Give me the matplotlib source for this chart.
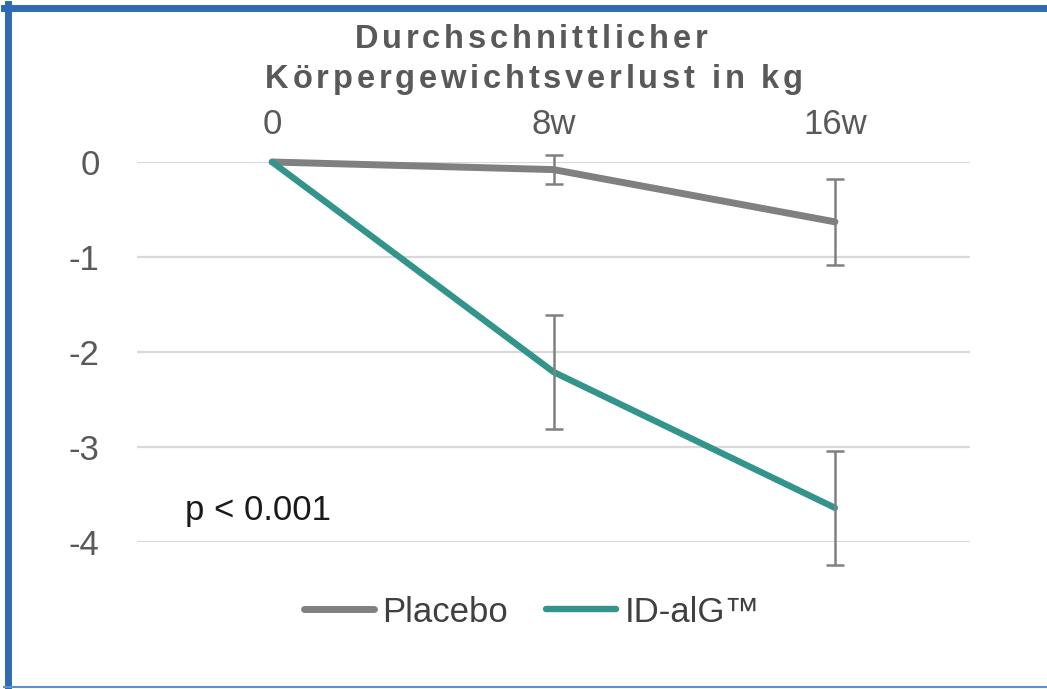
import matplotlib
matplotlib.use("Agg")
import matplotlib.pyplot as plt
from matplotlib.lines import Line2D
from matplotlib.font_manager import FontProperties, findfont, get_font

plt.rcParams['font.family'] = ['Liberation Sans', 'DejaVu Sans']

categories = ["0", "8w", "16w"]
placebo = [0.0, -0.08, -0.63]
placebo_err = [0.0, 0.15, 0.45]
idalg = [0.0, -2.21, -3.64]
idalg_err = [0.0, 0.60, 0.60]
yticks = [0, -1, -2, -3, -4]
title_lines = ["Durchschnittlicher", "Körpergewichtsverlust in kg"]
p_text = "p < 0.001"

GRAY = "#808080"
TEAL = "#32948A"
TXT = "#595959"
W, H, DPI = 1047, 689, 100

fig = plt.figure(figsize=(W / DPI, H / DPI), dpi=DPI)
ax = fig.add_axes([137/W, 1-542/H, (970-137)/W, (542-162)/H])

x = list(range(len(categories)))
ax.plot(x, placebo, color=GRAY, lw=5, solid_capstyle='round', label="Placebo", clip_on=False, zorder=3)
ax.plot(x, idalg, color=TEAL, lw=4.6, solid_capstyle='round', label="ID-alG™", clip_on=False, zorder=4)

for vals, errs in ((placebo, placebo_err), (idalg, idalg_err)):
    xs = [xi for xi, e in zip(x, errs) if e > 0]
    ys = [v for v, e in zip(vals, errs) if e > 0]
    es = [e for e in errs if e > 0]
    eb = ax.errorbar(xs, ys, yerr=es, fmt='none', ecolor=GRAY, elinewidth=1.8,
                     capsize=6.5, capthick=1.8, zorder=5)
    for art in eb.lines[1] + eb.lines[2]:
        art.set_clip_on(False)

ax.set_xlim(-0.48, 2.48)
ax.set_ylim(-4, 0)
ax.set_yticks(yticks)
ax.set_yticklabels([str(t) if t == 0 else "-" + str(abs(t)) for t in yticks])
ax.set_xticks(x)
ax.set_xticklabels(categories)
ax.xaxis.tick_top()
ax.tick_params(axis='x', length=0, pad=15, labelsize=25, labelcolor=TXT)
ax.tick_params(axis='y', length=0, pad=27, labelsize=25, labelcolor=TXT)
ax.grid(axis='y', color="#D9D9D9", lw=1.6)
ax.set_axisbelow(True)
for s in ax.spines.values():
    s.set_visible(False)

ax.text(-0.31, -3.77, p_text, fontsize=25, color="#1A1A1A", va='baseline', ha='left')

# Title with letter spacing (tracking) to match the wide source lettering
TSIZE = 23.5
fp = FontProperties(family='Liberation Sans', weight='bold', size=TSIZE)
ft = get_font(findfont(fp))
ft.set_size(TSIZE, DPI)


def spaced_title(s, xc_px, base_px, target_w):
    adv = []
    for ch in s:
        g = ft.load_char(ord(ch))
        adv.append(g.linearHoriAdvance / 65536.0)
    track = (target_w - sum(adv)) / (len(s) - 1)
    total = sum(adv) + track * (len(s) - 1)
    xp = xc_px - total / 2
    for ch, a in zip(s, adv):
        fig.text(xp / W, 1 - base_px / H, ch, fontproperties=fp, color=TXT,
                 ha='left', va='baseline')
        xp += a + track


spaced_title(title_lines[0], 531, 48.5, 353)
spaced_title(title_lines[1], 534, 88, 538)

fig.legend(loc='center', bbox_to_anchor=(532/W, 1-612/H), ncol=2, frameon=False,
           fontsize=25, handlelength=2.0, handletextpad=0.25, columnspacing=1.1,
           labelcolor="#404040")

BLUE = "#2F6BB3"
fig.add_artist(Line2D([4/W, 1], [1-7.5/H, 1-7.5/H], transform=fig.transFigure, color=BLUE, lw=5))
fig.add_artist(Line2D([7.5/W, 7.5/W], [0, 1-4/H], transform=fig.transFigure, color=BLUE, lw=5))
fig.add_artist(Line2D([4/W, 1], [1-687/H, 1-687/H], transform=fig.transFigure, color="#5B8FD0", lw=1.5))

fig.savefig("out.png", dpi=DPI)
